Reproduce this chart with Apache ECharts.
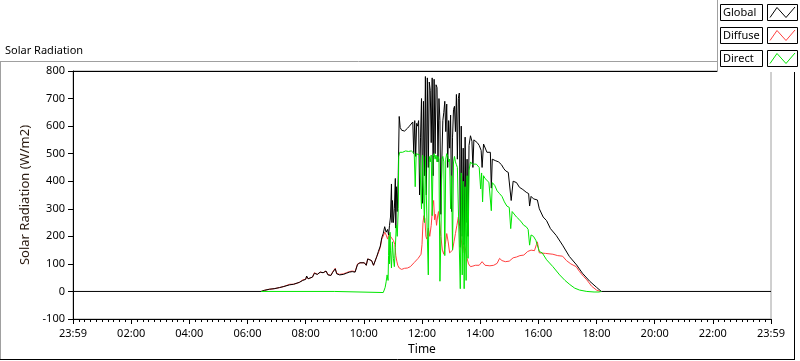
<!DOCTYPE html>
<html><head><meta charset="utf-8">
<script src="https://cdn.jsdelivr.net/npm/echarts@6/dist/echarts.min.js"></script>
<style>html,body{margin:0;padding:0;background:#fff}#c{width:800px;height:361px}</style>
</head><body><div id="c"></div>
<script>
const xLabels = ["23:59","02:00","04:00","06:00","08:00","10:00","12:00","14:00","16:00","18:00","20:00","22:00","23:59"];
const seriesNames = ["Global","Diffuse","Direct"];

const globalTimes = ["00:00","06:28","06:35","06:45","06:55","07:06","07:15","07:27","07:35","07:47","07:54","08:00","08:02","08:05","08:08","08:14","08:18","08:24","08:30","08:36","08:42","08:46","08:52","08:56","09:01","09:04","09:10","09:18","09:24","09:30","09:36","09:42","09:47","09:52","09:56","10:01","10:05","10:08","10:12","10:16","10:20","10:24","10:27","10:30","10:34","10:37","10:40","10:43","10:46","10:49","10:51","10:53","10:55","10:57","10:58","10:59","11:01","11:03","11:05","11:06","11:07","11:09","11:11","11:13","11:15","11:18","11:21","11:24","11:27","11:30","11:34","11:38","11:41","11:43","11:45","11:47","11:49","11:51","11:53","11:55","11:57","11:59","12:01","12:03","12:05","12:07","12:09","12:11","12:13","12:15","12:17","12:19","12:21","12:23","12:25","12:27","12:29","12:31","12:33","12:35","12:37","12:39","12:41","12:43","12:45","12:47","12:49","12:51","12:53","12:55","12:57","12:59","13:01","13:03","13:05","13:07","13:09","13:11","13:13","13:15","13:17","13:19","13:21","13:23","13:25","13:27","13:29","13:31","13:33","13:35","13:37","13:40","13:43","13:45","13:47","13:50","13:54","13:58","14:02","14:04","14:07","14:10","14:14","14:18","14:21","14:23","14:25","14:31","14:38","14:44","14:49","14:53","14:58","15:02","15:04","15:08","15:15","15:21","15:28","15:35","15:40","15:42","15:45","15:50","15:58","16:02","16:10","16:17","16:25","16:37","16:50","17:04","17:19","17:31","17:46","18:00","18:10","24:00"];
const globalValues = [0,0,4,8,10,14,18,24,26,33,40,44,56,46,42,52,66,62,70,68,74,60,58,70,82,64,60,62,66,70,72,70,98,104,100,104,95,118,120,112,95,100,128,145,165,195,210,235,215,225,205,240,270,390,250,330,250,300,410,230,380,290,420,635,595,585,590,582,588,592,600,605,615,500,620,490,610,600,620,350,560,700,320,690,420,780,350,775,450,760,730,540,775,420,770,500,750,740,470,700,620,280,480,620,650,690,580,680,450,620,520,640,290,560,660,672,580,715,480,700,720,160,600,200,520,170,560,250,480,200,530,565,545,450,550,545,540,530,512,450,535,530,505,500,505,375,480,475,470,460,445,437,432,430,330,400,395,378,370,360,355,310,345,336,332,300,270,257,228,203,168,127,96,66,37,15,0,0];

const diffuseTimes = ["06:28","06:35","06:45","06:55","07:06","07:15","07:27","07:35","07:47","07:54","08:00","08:02","08:05","08:08","08:14","08:18","08:24","08:30","08:36","08:42","08:46","08:52","08:56","09:01","09:04","09:10","09:18","09:24","09:30","09:36","09:42","09:47","09:52","09:56","10:01","10:05","10:08","10:12","10:16","10:20","10:24","10:27","10:30","10:34","10:37","10:40","10:43","10:46","10:49","10:52","10:55","10:58","11:01","11:04","11:06","11:08","11:10","11:13","11:18","11:24","11:30","11:36","11:40","11:44","11:48","11:52","11:55","11:58","12:00","12:02","12:04","12:06","12:08","12:10","12:13","12:16","12:19","12:22","12:24","12:26","12:28","12:30","12:32","12:34","12:36","12:39","12:42","12:45","12:48","12:51","12:54","12:57","13:00","13:03","13:06","13:09","13:12","13:15","13:18","13:21","13:24","13:27","13:30","13:33","13:36","13:40","13:45","13:50","13:58","14:04","14:10","14:20","14:28","14:35","14:40","14:45","14:52","15:00","15:08","15:15","15:22","15:30","15:38","15:45","15:52","15:56","15:58","16:02","16:15","16:30","16:40","16:50","16:58","17:07","17:18","17:25","17:33","17:40","17:50","18:00","18:08"];
const diffuseValues = [0,4,8,10,14,18,26,26,33,42,44,54,46,42,52,68,62,70,68,74,62,58,72,84,66,62,64,68,72,74,72,100,104,102,104,95,118,120,112,95,100,128,140,160,190,200,215,205,190,210,200,195,185,170,130,110,95,85,80,84,85,90,95,105,110,120,115,135,170,250,275,265,200,190,230,200,240,310,330,260,280,240,270,290,260,200,150,135,170,210,180,140,135,150,180,210,240,270,235,190,140,175,150,120,100,90,92,95,95,108,95,93,95,102,120,112,108,110,122,125,130,132,145,150,148,170,180,140,138,135,130,128,112,100,90,72,55,42,19,5,0];

const directTimes = ["06:28","08:59","09:01","10:40","10:42","10:44","10:46","10:48","10:50","10:51","10:52","10:53","10:54","10:55","10:57","10:59","11:01","11:03","11:05","11:07","11:09","11:11","11:12","11:14","11:20","11:26","11:32","11:38","11:42","11:44","11:46","11:48","11:52","11:55","11:57","11:59","12:01","12:03","12:05","12:07","12:09","12:11","12:13","12:15","12:17","12:19","12:21","12:23","12:25","12:27","12:29","12:31","12:33","12:35","12:37","12:39","12:41","12:43","12:45","12:47","12:49","12:51","12:53","12:55","12:57","12:59","13:01","13:03","13:05","13:07","13:09","13:11","13:13","13:15","13:17","13:19","13:21","13:23","13:25","13:27","13:29","13:31","13:33","13:35","13:37","13:40","13:44","13:48","13:52","13:56","13:58","14:01","14:03","14:05","14:07","14:10","14:14","14:18","14:21","14:23","14:25","14:30","14:35","14:40","14:45","14:50","14:55","15:00","15:03","15:06","15:10","15:15","15:20","15:25","15:30","15:35","15:39","15:42","15:45","15:50","15:55","15:58","16:02","16:08","16:17","16:30","16:44","16:55","17:05","17:15","17:25","17:40","17:55","18:05","18:10"];
const directValues = [0,0,-4,-4,5,15,35,60,40,130,200,100,215,150,85,180,120,90,160,240,200,300,490,505,505,510,508,510,505,500,380,500,505,495,500,300,495,500,250,490,495,200,60,490,470,495,275,490,500,480,495,470,490,480,37,200,480,490,470,130,480,500,490,470,480,300,420,150,470,490,470,460,450,445,450,10,430,60,400,10,380,40,420,120,440,470,462,458,462,455,450,372,430,325,420,410,405,396,400,293,395,385,365,355,345,325,310,305,228,290,285,270,262,252,240,235,225,168,205,200,185,178,145,140,115,90,60,40,25,12,5,0,-2,-2,0];

function toH(s){const p=s.split(':');return (+p[0])+(+p[1])/60;}
function zip(t,v){return t.map((s,i)=>[toH(s),v[i]]);}

const FONT = "Noto Sans";
const chart = echarts.init(document.getElementById('c'), null, {renderer:'canvas'});

function legendEntry(i, label, color){
  const y = 4 + i*23;
  return [
    {type:'rect', shape:{x:720.5,y:y+0.5,width:42,height:16}, style:{fill:'#fff',stroke:'#000',lineWidth:1}, z:100},
    {type:'text', x:723, y:y+9, style:{text:label, font:'11px "'+FONT+'"', fill:'#000', textVerticalAlign:'middle', verticalAlign:'middle'}, z:101},
    {type:'rect', shape:{x:767.5,y:y+0.5,width:30,height:16}, style:{fill:'#fff',stroke:'#000',lineWidth:1}, z:100},
    {type:'polyline', shape:{points:[[770,y+13.5],[777,y+3.5],[786,y+13.5],[795,y+3]]}, style:{stroke:color,lineWidth:1,fill:null}, z:101}
  ];
}
const colors = ['#000000','#ff4040','#00e600'];

const option = {
  animation:false,
  backgroundColor:'#ffffff',
  grid:{left:73,right:29,top:71,bottom:39,show:true,borderColor:'#a0a0a0',borderWidth:1,backgroundColor:'#ffffff'},
  xAxis:{
    type:'value', min:0, max:24, interval:2,
    name:'Time', nameLocation:'middle', nameGap:25,
    nameTextStyle:{color:'#000',fontFamily:FONT,fontSize:12},
    axisLine:{show:true,onZero:false,lineStyle:{color:'#000',width:1}},
    axisTick:{show:true,length:5,lineStyle:{color:'#000'}},
    minorTick:{show:true,splitNumber:10,length:3,lineStyle:{color:'#000'}},
    axisLabel:{color:'#000',fontFamily:FONT,fontSize:11,margin:9,formatter:v=>xLabels[Math.round(v/2)]},
    splitLine:{show:false}, minorSplitLine:{show:false}
  },
  yAxis:{
    type:'value', min:-100, max:800, interval:100,
    name:'Solar Radiation (W/m2)', nameLocation:'middle', nameGap:34, nameRotate:90,
    nameTextStyle:{color:'#2a1a10',fontFamily:FONT,fontSize:13},
    axisLine:{show:true,lineStyle:{color:'#000',width:1}},
    axisTick:{show:true,length:5,lineStyle:{color:'#000'}},
    axisLabel:{color:'#000',fontFamily:FONT,fontSize:11,margin:8},
    splitLine:{show:false}
  },
  series:[
    {name:seriesNames[1],type:'line',data:zip(diffuseTimes,diffuseValues),showSymbol:false,symbol:'none',lineStyle:{color:colors[1],width:1},z:2},
    {name:seriesNames[0],type:'line',data:zip(globalTimes,globalValues),showSymbol:false,symbol:'none',lineStyle:{color:colors[0],width:1},z:3},
    {name:seriesNames[2],type:'line',data:zip(directTimes,directValues),showSymbol:false,symbol:'none',lineStyle:{color:colors[2],width:1},z:4}
  ],
  graphic:[
    {type:'line', shape:{x1:0,y1:61.5,x2:717,y2:61.5}, style:{stroke:'#a0a0a0',lineWidth:1}, z:50},
    {type:'line', shape:{x1:0.5,y1:61,x2:0.5,y2:360}, style:{stroke:'#a0a0a0',lineWidth:1}, z:50},
    {type:'line', shape:{x1:0,y1:359.5,x2:795,y2:359.5}, style:{stroke:'#000',lineWidth:1}, z:50},
    {type:'line', shape:{x1:794.5,y1:72,x2:794.5,y2:360}, style:{stroke:'#000',lineWidth:1}, z:50},
    {type:'line', shape:{x1:73,y1:71.5,x2:771,y2:71.5}, style:{stroke:'#000',lineWidth:1}, z:50},
    {type:'text', x:5, y:51, style:{text:'Solar Radiation', font:'11px "'+FONT+'"', fill:'#000', textVerticalAlign:'middle', verticalAlign:'middle'}, z:50},
    {type:'rect', shape:{x:717,y:0,width:83,height:72}, style:{fill:'#fff',stroke:null}, z:90},
    {type:'line', shape:{x1:717.5,y1:0,x2:717.5,y2:72}, style:{stroke:'#a0a0a0',lineWidth:1}, z:91},
    ...legendEntry(0, seriesNames[0], colors[0]),
    ...legendEntry(1, seriesNames[1], colors[1]),
    ...legendEntry(2, seriesNames[2], colors[2])
  ]
};
chart.setOption(option);
</script></body></html>
